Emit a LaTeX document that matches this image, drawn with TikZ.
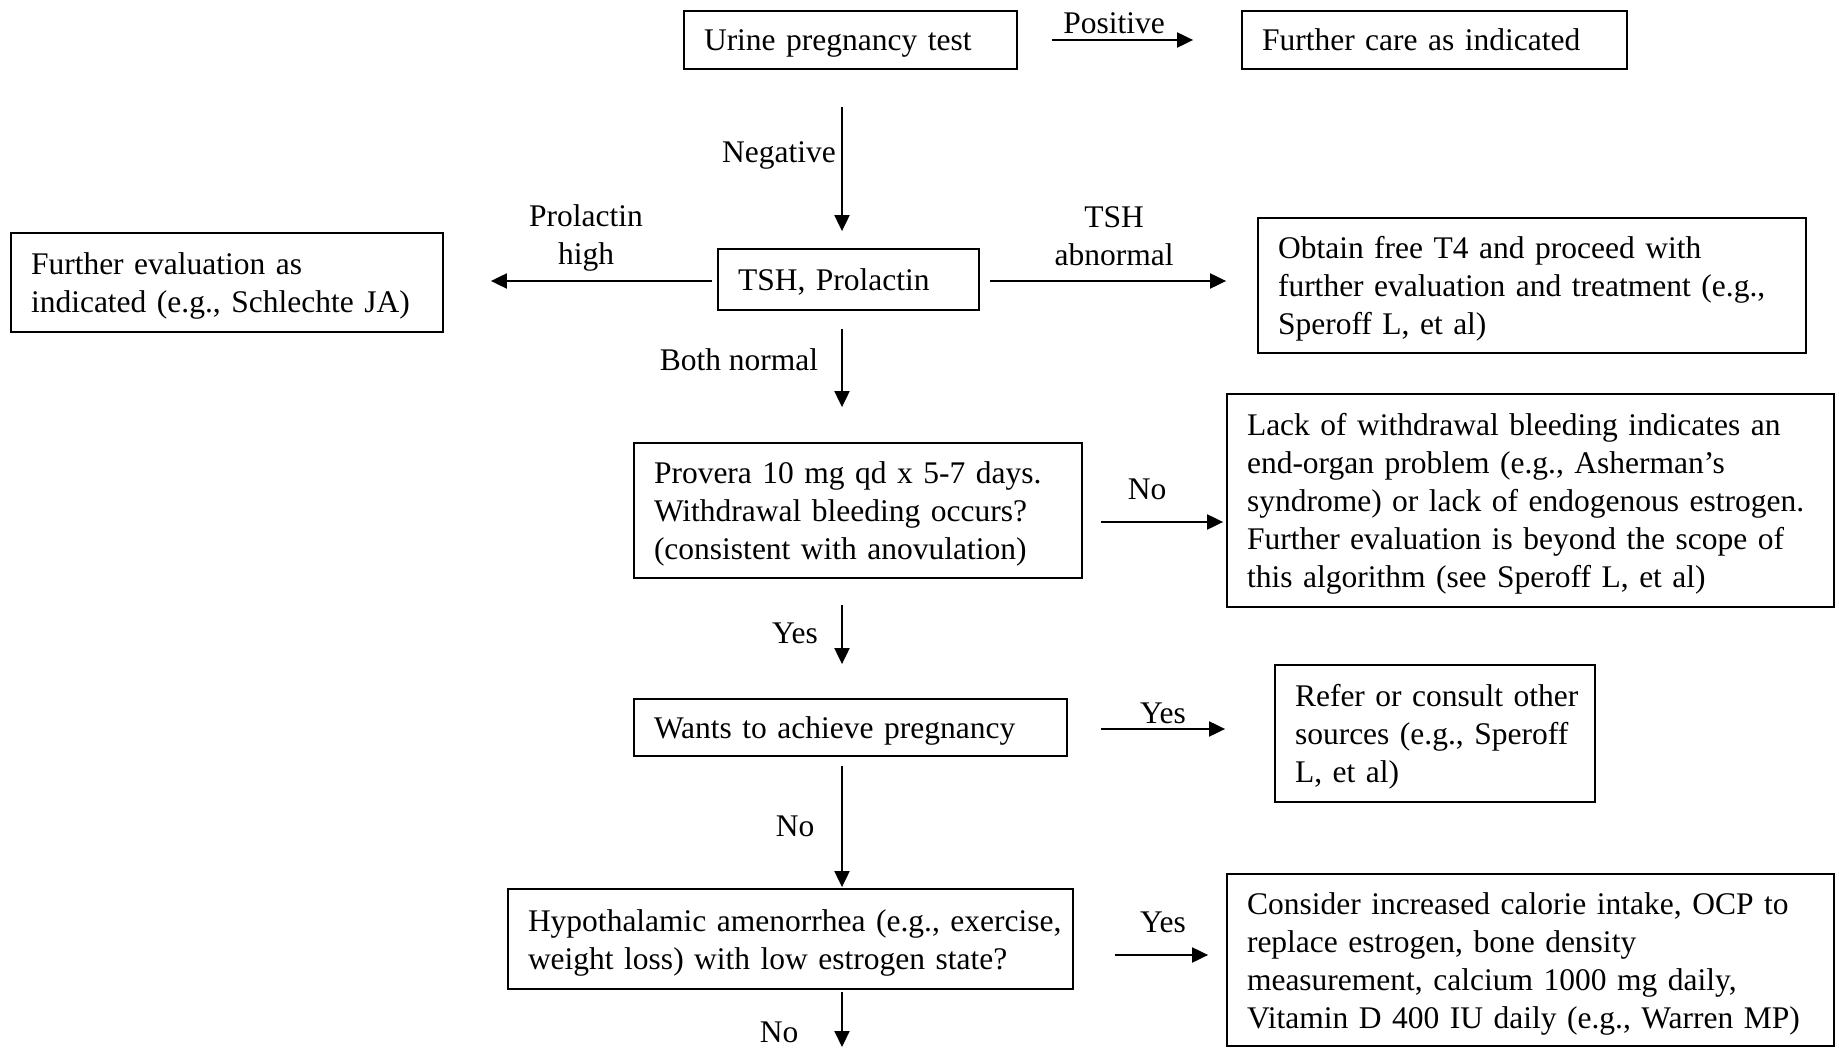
\documentclass[tikz,border=0pt]{standalone}
\usepackage{fontspec}
\setmainfont{Liberation Serif}
\usetikzlibrary{arrows.meta}
\newcommand\oneline[1]{\mbox{#1}}
\newcommand\topstrut{\rule{0pt}{30pt}}
\newcommand\botstrut{\rule[-8pt]{0pt}{8pt}}
\begin{document}
\begin{tikzpicture}[x=1pt,y=-1pt,
  box/.style={draw, line width=1.8pt, rectangle, align=left, inner xsep=20pt, inner ysep=0pt,
    font=\fontsize{31.5}{38}\selectfont,
    execute at begin node=\topstrut, execute at end node=\botstrut},
  lbl/.style={font=\fontsize{31.5}{38}\selectfont, inner sep=0pt, align=center},
  arr/.style={line width=2pt, -{Triangle[length=16pt,width=15pt]}}
]
\useasboundingbox (0,0) rectangle (1839,1048);
\coordinate (colx) at (842,0);

% boxes
\node[box, text width=293pt, minimum height=58pt] (urine) at (850.5,40) {\oneline{Urine pregnancy test}};
\node[box, text width=345pt, minimum height=58pt] (fc) at (1434.5,40) {\oneline{Further care as indicated}};
\node[box, text width=221pt, minimum height=61pt] (tsh) at (848.5,279.5) {\oneline{TSH, Prolactin}};
\node[box, text width=392pt, minimum height=99pt] (feval) at (227,282.5) {\oneline{Further evaluation as}\\\oneline{indicated (e.g., Schlechte JA)}};
\node[box, text width=508pt, minimum height=135pt] (obtain) at (1532,285.5) {\oneline{Obtain free T4 and proceed with}\\\oneline{further evaluation and treatment (e.g.,}\\\oneline{Speroff L, et al)}};
\node[box, text width=408pt, minimum height=135pt] (provera) at (858,510.5) {\oneline{Provera 10 mg qd x 5-7 days.}\\\oneline{Withdrawal bleeding occurs?}\\\oneline{(consistent with anovulation)}};
\node[box, text width=567pt, minimum height=213pt] (lack) at (1530.5,500.5) {\oneline{Lack of withdrawal bleeding indicates an}\\\oneline{end-organ problem (e.g., Asherman’s}\\\oneline{syndrome) or lack of endogenous estrogen.}\\\oneline{Further evaluation is beyond the scope of}\\\oneline{this algorithm (see Speroff L, et al)}};
\node[box, text width=393pt, minimum height=57pt] (wants) at (850.5,727.5) {\oneline{Wants to achieve pregnancy}};
\node[box, text width=280pt, minimum height=137pt] (refer) at (1435,733.5) {\oneline{Refer or consult other}\\\oneline{sources (e.g., Speroff}\\\oneline{L, et al)}};
\node[box, text width=525pt, minimum height=100pt] (hypo) at (790.5,939) {\oneline{Hypothalamic amenorrhea (e.g., exercise,}\\\oneline{weight loss) with low estrogen state?}};
\node[box, text width=567pt, minimum height=172pt] (consider) at (1530.5,960) {\oneline{Consider increased calorie intake, OCP to}\\\oneline{replace estrogen, bone density}\\\oneline{measurement, calcium 1000 mg daily,}\\\oneline{Vitamin D 400 IU daily (e.g., Warren MP)}};
\coordinate (bottomend) at (842,1047);

% connectors
\draw[arr, shorten <=34pt, shorten >=48pt] (urine.east) -- (urine.east -| fc.west);
\draw[arr, shorten <=37pt, shorten >=17pt] (urine.south -| colx) -- (tsh.north -| colx);
\draw[arr, shorten <=5pt, shorten >=47pt] ([yshift=-1.5pt]tsh.west) -- ([yshift=-1.5pt]tsh.west -| feval.east);
\draw[arr, shorten <=10pt, shorten >=31pt] ([yshift=-1.5pt]tsh.east) -- ([yshift=-1.5pt]tsh.east -| obtain.west);
\draw[arr, shorten <=18pt, shorten >=35pt] (tsh.south -| colx) -- (provera.north -| colx);
\draw[arr, shorten <=18pt, shorten >=3pt] ([yshift=-11.5pt]provera.east) -- ([yshift=-11.5pt]provera.east -| lack.west);
\draw[arr, shorten <=26pt, shorten >=34pt] (provera.south -| colx) -- (wants.north -| colx);
\draw[arr, shorten <=33pt, shorten >=49pt] ([yshift=-1.5pt]wants.east) -- ([yshift=-1.5pt]wants.east -| refer.west);
\draw[arr, shorten <=9pt, shorten >=1pt] (wants.south -| colx) -- (hypo.north -| colx);
\draw[arr, shorten <=41pt, shorten >=18pt] ([yshift=-16pt]hypo.east) -- ([yshift=-16pt]hypo.east -| consider.west);
\draw[arr, shorten <=2pt] (hypo.south -| colx) -- (bottomend);

% labels
\node[lbl] (lpos) at (1114,23) {Positive};
\node[lbl] (lneg) at (779,155) {Negative};
\node[lbl] (lpro) at (586,238) {Prolactin\\high};
\node[lbl] (ltsh) at (1114,236) {TSH\\abnormal};
\node[lbl] (lboth) at (739,360) {Both normal};
\node[lbl] (lno1) at (1147,489) {No};
\node[lbl] (lyes1) at (795,633) {Yes};
\node[lbl] (lyes2) at (1163,713) {Yes};
\node[lbl] (lno2) at (795,826) {No};
\node[lbl] (lyes3) at (1163,922) {Yes};
\node[lbl] (lno3) at (779,1032) {No};
\end{tikzpicture}
\end{document}
